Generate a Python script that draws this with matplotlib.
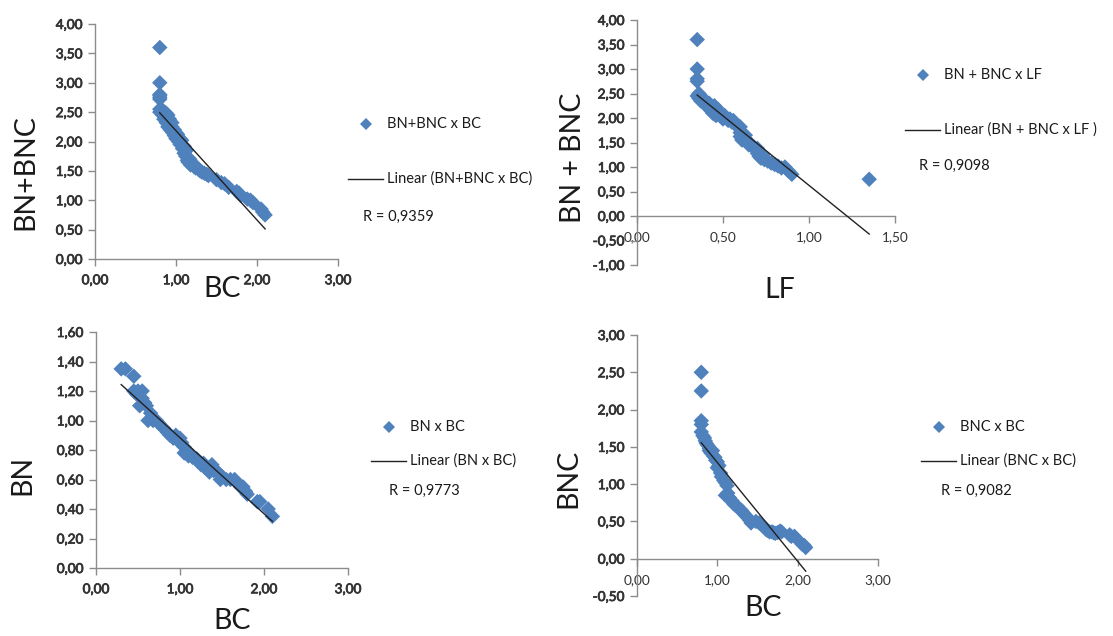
import numpy as np
import matplotlib
matplotlib.use("Agg")
import matplotlib.pyplot as plt
import matplotlib.patheffects as pe
from matplotlib.lines import Line2D

plt.rcParams['font.family'] = ['Lato', 'DejaVu Sans']

# ---- data -------------------------------------------------------------
# BN+BNC versus BC
bc_sum = [0.80, 0.80, 0.80, 0.80, 0.80, 0.80, 0.80, 0.80, 0.81, 0.82, 0.82, 0.83,
          0.84, 0.85, 0.86, 0.85, 0.87, 0.88, 0.88, 0.88, 0.90, 0.90, 0.90, 0.92,
          0.92, 0.93, 0.95, 0.95, 0.96, 0.98, 0.98, 1.00, 1.00, 1.02, 1.03, 1.05,
          1.05, 1.07, 1.08, 1.10, 1.10, 1.12, 1.13, 1.14, 1.15, 1.17, 1.18, 1.20,
          1.22, 1.24, 1.26, 1.28, 1.30, 1.32, 1.35, 1.38, 1.40, 1.50, 1.56, 1.60,
          1.65, 1.75, 1.78, 1.80, 1.88, 1.92, 1.95, 2.05, 2.07, 2.10]
bnbnc_bc = [3.60, 3.00, 2.80, 2.78, 2.75, 2.72, 2.55, 2.50, 2.50, 2.48, 2.55, 2.52,
            2.45, 2.50, 2.50, 2.38, 2.45, 2.42, 2.48, 2.32, 2.40, 2.45, 2.25, 2.28,
            2.38, 2.20, 2.25, 2.32, 2.15, 2.20, 2.10, 2.15, 2.05, 2.12, 2.00, 2.05,
            1.95, 2.02, 1.88, 1.92, 1.80, 1.75, 1.85, 1.68, 1.65, 1.70, 1.60, 1.62,
            1.58, 1.55, 1.56, 1.52, 1.50, 1.48, 1.46, 1.44, 1.42, 1.35, 1.30, 1.28,
            1.22, 1.15, 1.12, 1.08, 1.02, 1.00, 0.96, 0.85, 0.80, 0.75]

# BN+BNC versus LF
lf = [0.35, 0.35, 0.35, 0.35, 0.35, 0.36, 0.36, 0.37, 0.38, 0.39, 0.40, 0.41,
      0.42, 0.43, 0.44, 0.44, 0.45, 0.45, 0.46, 0.47, 0.48, 0.49, 0.50, 0.51,
      0.52, 0.53, 0.54, 0.55, 0.56, 0.57, 0.58, 0.59, 0.60, 0.60, 0.60, 0.61,
      0.62, 0.63, 0.64, 0.65, 0.66, 0.67, 0.68, 0.70, 0.70, 0.71, 0.72, 0.73,
      0.74, 0.76, 0.78, 0.80, 0.82, 0.84, 0.86, 0.88, 0.90, 1.35]
bnbnc_lf = [3.60, 3.00, 2.80, 2.75, 2.45, 2.50, 2.40, 2.35, 2.36, 2.32, 2.35, 2.22,
            2.30, 2.15, 2.20, 2.10, 2.25, 2.08, 2.05, 2.18, 2.10, 2.02, 1.98, 2.05,
            2.00, 1.95, 1.98, 1.92, 1.95, 1.88, 1.85, 1.80, 1.82, 1.70, 1.62, 1.55,
            1.60, 1.65, 1.50, 1.45, 1.48, 1.42, 1.40, 1.38, 1.28, 1.22, 1.18, 1.25,
            1.15, 1.12, 1.08, 1.05, 1.02, 0.98, 1.00, 0.92, 0.85, 0.75]

# BN versus BC
bc_bn = [0.30, 0.35, 0.45, 0.45, 0.48, 0.50, 0.55, 0.55, 0.52, 0.58, 0.60, 0.65,
         0.62, 0.68, 0.72, 0.75, 0.80, 0.85, 0.88, 0.92, 0.95, 0.98, 1.00, 1.02,
         1.05, 1.05, 1.08, 1.10, 1.12, 1.15, 1.20, 1.22, 1.25, 1.28, 1.30, 1.35,
         1.38, 1.40, 1.45, 1.50, 1.48, 1.55, 1.60, 1.65, 1.68, 1.72, 1.75, 1.78,
         1.80, 1.92, 1.95, 2.05, 2.10]
bn = [1.35, 1.35, 1.30, 1.20, 1.18, 1.20, 1.20, 1.15, 1.10, 1.12, 1.10, 1.05,
      1.00, 1.00, 1.00, 0.98, 0.95, 0.92, 0.90, 0.88, 0.90, 0.86, 0.88, 0.85,
      0.82, 0.78, 0.80, 0.76, 0.77, 0.75, 0.74, 0.72, 0.70, 0.71, 0.68, 0.65,
      0.70, 0.66, 0.65, 0.62, 0.60, 0.60, 0.60, 0.60, 0.58, 0.55, 0.55, 0.52,
      0.50, 0.45, 0.45, 0.40, 0.35]

# BNC versus BC
bc_bnc = [0.80, 0.80, 0.80, 0.80, 0.80, 0.82, 0.84, 0.85, 0.86, 0.88, 0.90, 0.90,
          0.92, 0.94, 0.95, 0.97, 0.98, 1.00, 1.00, 1.02, 1.04, 1.05, 1.08, 1.10,
          1.12, 1.10, 1.13, 1.15, 1.18, 1.20, 1.22, 1.25, 1.28, 1.30, 1.32, 1.35,
          1.38, 1.40, 1.42, 1.48, 1.52, 1.56, 1.60, 1.62, 1.65, 1.68, 1.70, 1.72,
          1.75, 1.78, 1.80, 1.90, 1.92, 1.96, 2.05, 2.08, 2.10]
bnc = [2.50, 2.25, 1.85, 1.80, 1.70, 1.65, 1.62, 1.58, 1.55, 1.52, 1.48, 1.45,
       1.42, 1.45, 1.38, 1.36, 1.32, 1.30, 1.22, 1.25, 1.15, 1.10, 1.05, 1.02,
       0.98, 0.85, 0.88, 0.82, 0.78, 0.74, 0.72, 0.70, 0.66, 0.65, 0.62, 0.58,
       0.55, 0.52, 0.48, 0.50, 0.48, 0.45, 0.40, 0.38, 0.36, 0.36, 0.35, 0.34,
       0.35, 0.37, 0.36, 0.32, 0.30, 0.30, 0.20, 0.18, 0.15]

series_names = ["BN+BNC x BC", "BN + BNC x LF", "BN x BC", "BNC x BC"]
trend_names = ["Linear (BN+BNC x BC)", "Linear (BN + BNC x LF )",
               "Linear (BN x BC)", "Linear (BNC x BC)"]
r_values = ["0,9359", "0,9098", "0,9773", "0,9082"]
x_titles = ["BC", "LF", "BC", "BC"]
y_titles = ["BN+BNC", "BN + BNC", "BN", "BNC"]

# ---- figure -----------------------------------------------------------
W, H = 1113, 636
fig = plt.figure(figsize=(W / 100, H / 100), dpi=100)
fig.patch.set_facecolor('white')

BLUE = '#4F81BD'
AXIS = '#8C8C8C'
TICK_TXT = '#333333'
TXT = '#1A1A1A'
# slightly heavier strokes for the numeric tick labels
heavy = [pe.withStroke(linewidth=0.55, foreground=TICK_TXT)]


def fx(px):
    return px / W


def fy(py):
    return 1 - py / H


def make_axes(left, right, top, bottom):
    return fig.add_axes([fx(left), fy(bottom), (right - left) / W, (bottom - top) / H])


def comma(v):
    return f"{v:.2f}".replace('.', ',')


def style(ax, xlim, ylim, xstep, ystep):
    ax.set_xlim(*xlim)
    ax.set_ylim(*ylim)
    xt = np.arange(xlim[0], xlim[1] + 1e-9, xstep)
    yt = np.arange(ylim[0], ylim[1] + 1e-9, ystep)
    ax.set_xticks(xt)
    ax.set_yticks(yt)
    ax.set_xticklabels([comma(v) for v in xt], path_effects=heavy)
    ax.set_yticklabels([comma(v) for v in yt], path_effects=heavy)
    for s in ('top', 'right'):
        ax.spines[s].set_visible(False)
    for s in ('left', 'bottom'):
        ax.spines[s].set_color(AXIS)
        ax.spines[s].set_linewidth(1.0)
    if ylim[0] < 0:
        ax.spines['bottom'].set_position(('data', 0))
    ax.tick_params(axis='both', direction='out', length=5, width=1.0,
                   color=AXIS, labelcolor=TICK_TXT, labelsize=9.8)
    ax.tick_params(axis='x', pad=6)
    ax.tick_params(axis='y', pad=4)
    ax.patch.set_alpha(0)


def draw(ax, x, y):
    x = np.asarray(x)
    y = np.asarray(y)
    ax.scatter(x, y, marker='D', s=62, color=BLUE, edgecolors='none', zorder=2,
               clip_on=False)
    k, b = np.polyfit(x, y, 1)
    xs = np.array([x.min(), x.max()])
    ax.plot(xs, k * xs + b, color='#222222', lw=1.0, zorder=3, clip_on=False)


panels = [
    dict(box=(95, 338, 24, 259), x=bc_sum, y=bnbnc_bc, xlim=(0, 3), ylim=(0, 4),
         xs=1, ys=0.5, ylab=(25, 172), xlab=(222, 289),
         leg=(366, 124, 179, 217, 363)),
    dict(box=(637, 895, 20, 265), x=lf, y=bnbnc_lf, xlim=(0, 1.5), ylim=(-1, 4),
         xs=0.5, ys=0.5, ylab=(573, 158), xlab=(780, 290),
         leg=(923, 75, 130, 166, 919)),
    dict(box=(96, 348, 332, 568), x=bc_bn, y=bn, xlim=(0, 3), ylim=(0, 1.6),
         xs=1, ys=0.2, ylab=(22, 475), xlab=(232, 621),
         leg=(389, 427, 461, 491, 389)),
    dict(box=(637, 878, 335, 596), x=bc_bnc, y=bnc, xlim=(0, 3), ylim=(-0.5, 3),
         xs=1, ys=0.5, ylab=(568, 478), xlab=(763, 608),
         leg=(939, 427, 461, 491, 941)),
]

for i, p in enumerate(panels):
    ax = make_axes(*p['box'])
    style(ax, p['xlim'], p['ylim'], p['xs'], p['ys'])
    draw(ax, p['x'], p['y'])

    # axis titles
    fig.text(fx(p['ylab'][0]), fy(p['ylab'][1]), y_titles[i], rotation=90,
             ha='center', va='center', fontsize=20.5, color=TXT)
    fig.text(fx(p['xlab'][0]), fy(p['xlab'][1]), x_titles[i],
             ha='center', va='center', fontsize=20.5, color=TXT)

    # legend block
    mx, my, ly, ry, rx = p['leg']
    fig.add_artist(Line2D([fx(mx)], [fy(my)], marker='D', markersize=6.5,
                          color=BLUE, markeredgewidth=0, linestyle='none'))
    fig.text(fx(mx + 21), fy(my), series_names[i], ha='left', va='center',
             fontsize=10.5, color=TXT)
    fig.add_artist(Line2D([fx(mx - 18), fx(mx + 17)], [fy(ly), fy(ly)],
                          color='#222222', lw=1.0))
    fig.text(fx(mx + 21), fy(ly), trend_names[i], ha='left', va='center',
             fontsize=10.5, color=TXT)
    fig.text(fx(rx), fy(ry), f"R = {r_values[i]}", ha='left', va='center',
             fontsize=10.5, color=TXT)

fig.savefig('out.png', dpi=100, facecolor='white')
